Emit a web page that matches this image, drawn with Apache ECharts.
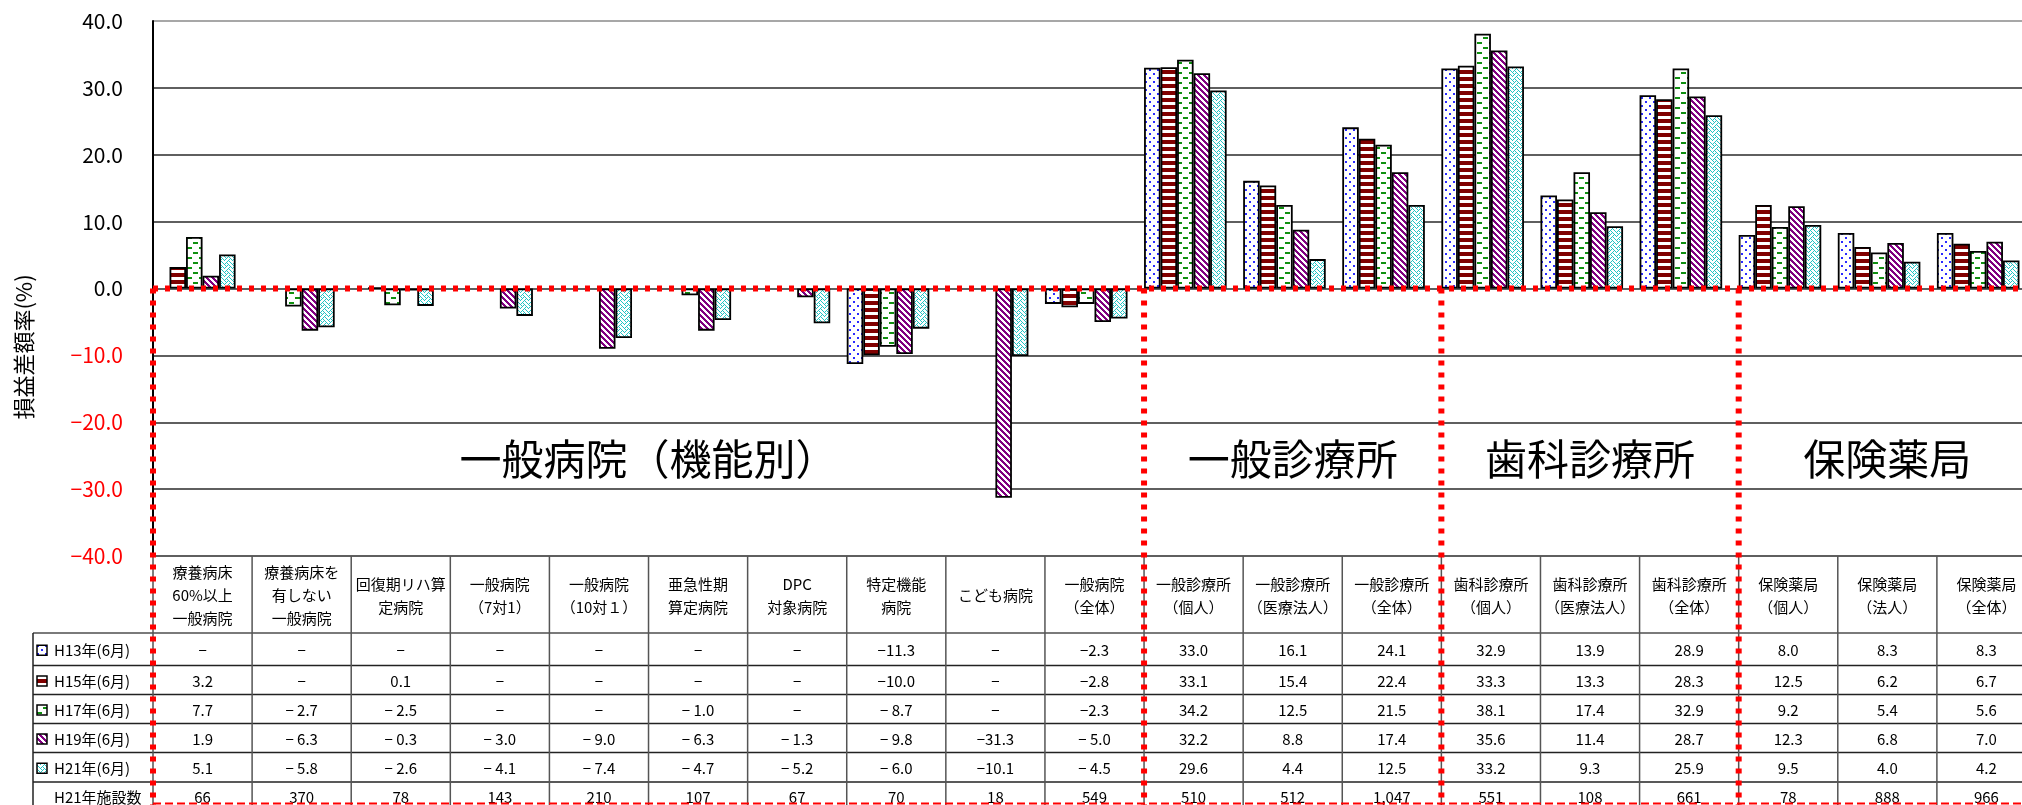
<!DOCTYPE html>
<html>
<head>
<meta charset="utf-8">
<script src="https://cdn.jsdelivr.net/npm/echarts@6.0.0/dist/echarts.min.js"></script>
<style>
  html, body { margin: 0; padding: 0; background: #ffffff; }
  #chart { width: 2022px; height: 805px; }
</style>
</head>
<body>
<div id="chart"></div>
<script>
// ---- data ----
const categories = [
  '療養病床\n60%以上\n一般病院',
  '療養病床を\n有しない\n一般病院',
  '回復期リハ算\n定病院',
  '一般病院\n（7対1）',
  '一般病院\n（10対１）',
  '亜急性期\n算定病院',
  'DPC\n対象病院',
  '特定機能\n病院',
  'こども病院',
  '一般病院\n（全体）',
  '一般診療所\n（個人）',
  '一般診療所\n（医療法人）',
  '一般診療所\n（全体）',
  '歯科診療所\n（個人）',
  '歯科診療所\n（医療法人）',
  '歯科診療所\n（全体）',
  '保険薬局\n（個人）',
  '保険薬局\n（法人）',
  '保険薬局\n（全体）'
];

const seriesNames = ['H13年(6月)', 'H15年(6月)', 'H17年(6月)', 'H19年(6月)', 'H21年(6月)'];

const h13 = [null, null, null, null, null, null, null, -11.3, null, -2.3, 33.0, 16.1, 24.1, 32.9, 13.9, 28.9, 8.0, 8.3, 8.3];
const h15 = [3.2, null, 0.1, null, null, null, null, -10.0, null, -2.8, 33.1, 15.4, 22.4, 33.3, 13.3, 28.3, 12.5, 6.2, 6.7];
const h17 = [7.7, -2.7, -2.5, null, null, -1.0, null, -8.7, null, -2.3, 34.2, 12.5, 21.5, 38.1, 17.4, 32.9, 9.2, 5.4, 5.6];
const h19 = [1.9, -6.3, -0.3, -3.0, -9.0, -6.3, -1.3, -9.8, -31.3, -5.0, 32.2, 8.8, 17.4, 35.6, 11.4, 28.7, 12.3, 6.8, 7.0];
const h21 = [5.1, -5.8, -2.6, -4.1, -7.4, -4.7, -5.2, -6.0, -10.1, -4.5, 29.6, 4.4, 12.5, 33.2, 9.3, 25.9, 9.5, 4.0, 4.2];

const facilityLabel = 'H21年施設数';
const facilityCounts = [66, 370, 78, 143, 210, 107, 67, 70, 18, 549, 510, 512, 1047, 551, 108, 661, 78, 888, 966];

const groupNames = ['一般病院（機能別）', '一般診療所', '歯科診療所', '保険薬局'];
const groupStart = [0, 10, 13, 16];
const groupEnd = [9, 12, 15, 18];

const yMin = -40, yMax = 40, yStep = 10;
const yTitle = '損益差額率(%)';

// cells written without a space after the minus sign
const tightCells = [[0, 9], [1, 9], [2, 9]];

// ---- fill patterns ----
function tile(w, h, color, paint) {
  const c = document.createElement('canvas');
  c.width = w; c.height = h;
  const ctx = c.getContext('2d');
  ctx.fillStyle = '#ffffff';
  ctx.fillRect(0, 0, w, h);
  ctx.fillStyle = color;
  paint(ctx, w, h);
  return { image: c, repeat: 'repeat' };
}
const patterns = [
  // blue dots
  tile(8, 8, '#2a2aff', ctx => { ctx.fillRect(1, 1, 2, 2); ctx.fillRect(5, 5, 2, 2); }),
  // maroon horizontal stripes
  tile(4, 7, '#800000', ctx => { ctx.fillRect(0, 0, 4, 4); }),
  // green dashes
  tile(12, 10, '#109010', ctx => { ctx.fillRect(1, 2, 5, 2); ctx.fillRect(7, 7, 5, 2); }),
  // purple downward diagonal
  tile(6, 6, '#800080', (ctx, w, h) => {
    for (let y = 0; y < h; y++) for (let x = 0; x < w; x++) {
      if (((x - y) % 6 + 6) % 6 < 3) ctx.fillRect(x, y, 1, 1);
    }
  }),
  // cyan weave
  tile(8, 8, '#22c4c4', ctx => {
    const bits = [0x88, 0x54, 0x22, 0x45, 0x88, 0x14, 0x22, 0x51];
    bits.forEach((b, y) => { for (let x = 0; x < 8; x++) if (b & (0x80 >> x)) ctx.fillRect(x, y, 1, 1); });
  })
];

const seriesData = [h13, h15, h17, h19, h21];
const FONT = '"Noto Sans CJK JP", "Noto Sans", sans-serif';

function fmtValue(v, row, col) {
  if (v === null || v === undefined) return '−';
  if (v >= 0) return v.toFixed(1);
  const tight = Math.abs(v) >= 10 || tightCells.some(([r, c]) => r === row && c === col);
  return '−' + (tight ? '' : ' ') + Math.abs(v).toFixed(1);
}

const chart = echarts.init(document.getElementById('chart'));

const series = seriesData.map((d, i) => ({
  name: seriesNames[i],
  type: 'bar',
  data: d,
  barGap: '0%',
  barCategoryGap: '0%',
  itemStyle: { color: patterns[i], borderColor: '#000000', borderWidth: 1.8 },
  emphasis: { disabled: true },
  z: 3
}));
// empty slot that keeps each cluster on the left of its column
series.push({ name: 'spacer', type: 'bar', data: categories.map(() => null), barGap: '0%', barCategoryGap: '0%' });

const splitColors = [];
for (let v = yMin; v <= yMax; v += yStep) splitColors.push(v === yMax ? '#8a8a8a' : '#2a2a2a');

chart.setOption({
  animation: false,
  backgroundColor: '#ffffff',
  grid: { left: 153, top: 21, width: 1883, height: 535, outerBoundsMode: 'none', containLabel: false },
  xAxis: {
    type: 'category',
    data: categories,
    axisLine: { show: false },
    axisTick: { show: false },
    axisLabel: { show: false },
    splitLine: { show: false }
  },
  yAxis: {
    type: 'value',
    min: yMin, max: yMax, interval: yStep,
    axisLine: { show: true, lineStyle: { color: '#000000', width: 2 } },
    axisTick: { show: false },
    splitLine: { show: true, lineStyle: { color: splitColors, width: 1.6 } },
    axisLabel: {
      margin: 30,
      fontSize: 21,
      fontFamily: FONT,
      color: v => (Number(v) < 0 ? '#ff0000' : '#000000'),
      formatter: v => (v < 0 ? '−' + Math.abs(v).toFixed(1) : v.toFixed(1))
    }
  },
  tooltip: { show: false },
  series: series
});

// ---- data table, group captions and frames ----
const px = i => chart.convertToPixel({ xAxisIndex: 0 }, i);
const py = v => chart.convertToPixel({ yAxisIndex: 0 }, v);
const band = px(1) - px(0);
const colLeft = i => px(i) - band / 2;
const tableRight = colLeft(categories.length);
const yZero = py(0);
const tableTop = py(yMin);
const legendLeft = 33;
const rowLines = [tableTop + 77, tableTop + 109.5, tableTop + 138.5, tableTop + 167.5, tableTop + 196.5, tableTop + 226, tableTop + 255];
const bottomY = 805;

const g = [];
function line(x1, y1, x2, y2, stroke, lineWidth, dash, z) {
  const style = { stroke, lineWidth };
  if (dash) { style.lineDash = dash; style.lineCap = 'butt'; }
  g.push({ type: 'line', silent: true, z: z || 10, shape: { x1, y1, x2, y2 }, style });
}
function text(str, x, y, size, fill, align, lh) {
  const el = {
    type: 'text', silent: true, z: 12,
    style: {
      text: str, x, y, fill: fill || '#000000',
      font: size + 'px ' + FONT,
      fontSize: size, fontFamily: FONT,
      align: align || 'center', verticalAlign: 'middle',
      textAlign: align || 'center', textVerticalAlign: 'middle',
      lineHeight: lh || 23
    }
  };
  g.push(el);
  return el;
}

// row lines
rowLines.forEach((y, k) => line(legendLeft, y, tableRight, y, k === 0 ? '#7a7a7a' : '#222222', k === 0 ? 2 : 1.5));
// column dividers
for (let i = 0; i <= categories.length; i++) line(colLeft(i), tableTop, colLeft(i), bottomY + 10, '#555555', 1.5);
line(legendLeft, rowLines[0], legendLeft, bottomY + 10, '#222222', 1.5);

// header labels
categories.forEach((c, i) => text(c, px(i), tableTop + 39.5, 15));

// value rows
const rowCenters = rowLines.slice(0, 6).map((y, k) => (y + rowLines[k + 1]) / 2 + 1);
seriesData.forEach((d, r) => {
  d.forEach((v, i) => text(fmtValue(v, r, i), px(i), rowCenters[r], 15));
  // legend key + name
  g.push({
    type: 'rect', silent: true, z: 12,
    shape: { x: 37, y: rowCenters[r] - 5, width: 10, height: 10 },
    style: { fill: patterns[r], stroke: '#000000', lineWidth: 1.5 }
  });
  text(seriesNames[r], 54, rowCenters[r], 15, '#000000', 'left');
});
facilityCounts.forEach((n, i) => text(n.toLocaleString('en-US'), px(i), rowCenters[5], 15));
text(facilityLabel, 54, rowCenters[5], 15, '#000000', 'left');

// group captions
groupNames.forEach((name, k) => {
  const cx = (colLeft(groupStart[k]) + colLeft(groupEnd[k] + 1)) / 2;
  text(name, cx, py(-25.5), 42, '#000000', 'center', 50);
});

// red dotted frames around the groups
line(colLeft(0), yZero, tableRight, yZero, '#ff0000', 6, [5, 7], 20);
groupStart.forEach(s => line(colLeft(s), yZero, colLeft(s), bottomY + 5, '#ff0000', 6, [5, 7], 20));
line(colLeft(0), bottomY - 1.5, tableRight, bottomY - 1.5, '#ff0000', 2, [8, 4], 20);

// axis title, rotated about its own centre
const title = text(yTitle, 0, 0, 22, '#000000', 'center');
title.x = 24; title.y = 347; title.rotation = Math.PI / 2;

chart.setOption({ graphic: { elements: g } });
</script>
</body>
</html>
